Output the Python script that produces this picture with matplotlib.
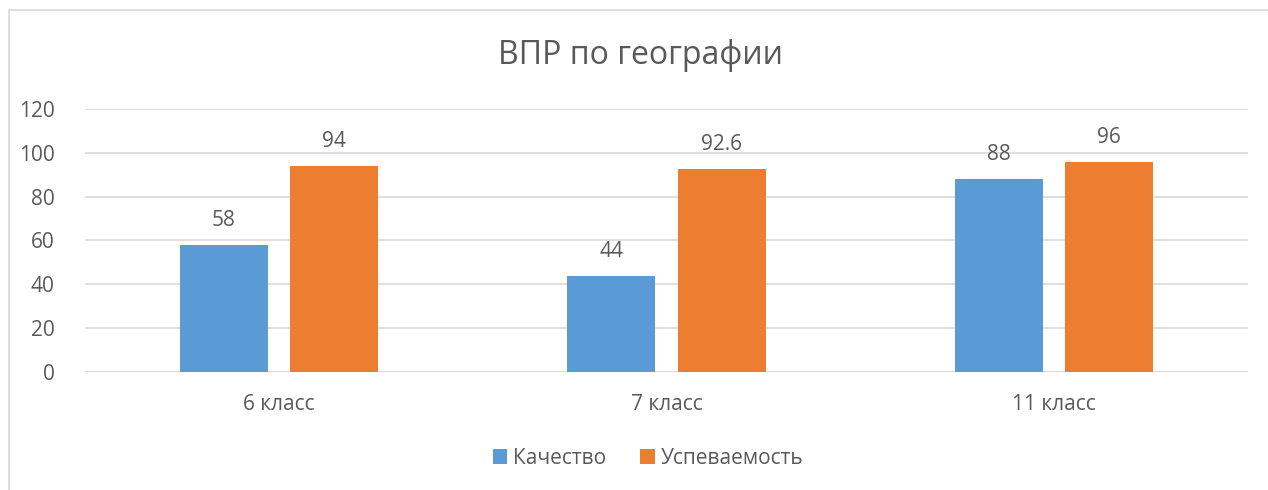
import matplotlib
matplotlib.use("Agg")
import matplotlib.pyplot as plt
import numpy as np
from matplotlib.patches import Rectangle

categories = ["6 класс", "7 класс", "11 класс"]
kachestvo = [58, 44, 88]
uspevaemost = [94, 92.6, 96]
series_names = ["Качество", "Успеваемость"]
title = "ВПР по географии"
yticks = [0, 20, 40, 60, 80, 100, 120]

plt.rcParams['font.family'] = ['Open Sans', 'DejaVu Sans']
txt = '#595959'
W, H = 1268, 490
fig = plt.figure(figsize=(W/100, H/100), dpi=100)
fig.patch.set_facecolor('white')

# chart frame (cropped on right/bottom)
fig.patches.append(Rectangle((9/W, -0.1), 1.2, (H-10)/H + 0.1, transform=fig.transFigure,
                             fill=False, edgecolor='#D9D9D9', linewidth=1.2))

ax = fig.add_axes([85/W, 1-372/H, (1248-85)/W, (372-109)/H])
x = np.arange(len(categories))
bw = 0.227
off = 0.142
b1 = ax.bar(x - off, kachestvo, bw, color='#5B9BD5', label=series_names[0], zorder=3)
b2 = ax.bar(x + off, uspevaemost, bw, color='#ED7D31', label=series_names[1], zorder=3)
for bars, vals in ((b1, kachestvo), (b2, uspevaemost)):
    for r, v in zip(bars, vals):
        ax.annotate(f"{v:g}", (r.get_x() + r.get_width()/2, r.get_height()),
                    xytext=(0, 10), textcoords='offset points', ha='center', va='bottom',
                    fontsize=15, color=txt)

ax.set_xlim(-0.5, len(categories) - 0.5)
ax.set_ylim(0, 120)
ax.set_yticks(yticks)
ax.set_xticks(x)
ax.set_xticklabels(categories)
ax.tick_params(axis='both', length=0, labelsize=15, colors=txt)
ax.tick_params(axis='y', pad=22)
ax.tick_params(axis='x', pad=16)
ax.yaxis.grid(True, color='#D9D9D9', linewidth=1.2, zorder=0)
for s in ax.spines.values():
    s.set_visible(False)
ax.axhline(0, color='#D9D9D9', linewidth=1.2, zorder=2)

fig.text(641/W, 1-56/H, title, ha='center', va='center', fontsize=23, color=txt)

fig.legend(loc='center', bbox_to_anchor=(648/W, 1-458/H), ncol=2, frameon=False,
           fontsize=15, labelcolor=txt, handlelength=0.7, handleheight=0.7,
           handletextpad=0.3, columnspacing=1.6)

fig.savefig('out.png', dpi=100, facecolor='white')
